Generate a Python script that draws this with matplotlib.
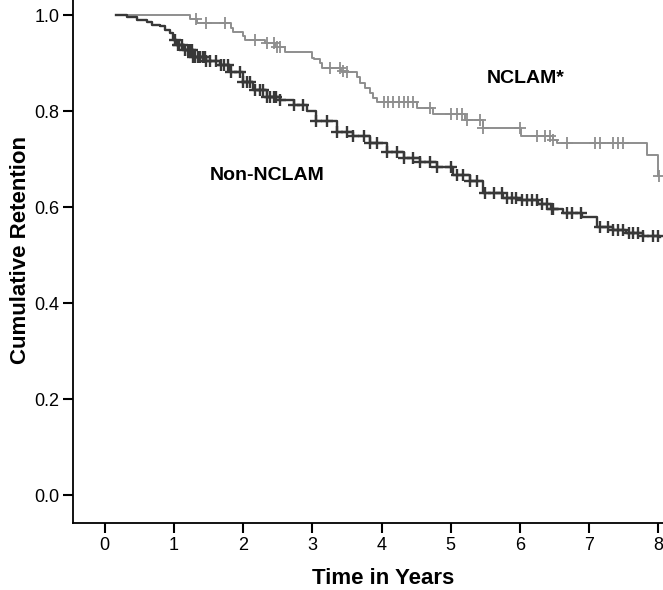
import numpy as np
import matplotlib
matplotlib.use("Agg")
import matplotlib.pyplot as plt

# ---- data ----
# Non-NCLAM Kaplan-Meier steps: (time in years, cumulative retention)
non_t = [0.17, 0.32, 0.46, 0.61, 0.68, 0.80, 0.87, 0.94, 0.99, 1.04, 1.14, 1.28,
         1.47, 1.67, 1.81, 2.00, 2.15, 2.34, 2.53, 2.73, 2.92, 3.06, 3.35, 3.59,
         3.83, 4.08, 4.32, 4.56, 4.80, 5.04, 5.28, 5.47, 5.76, 6.02, 6.26, 6.45,
         6.62, 6.90, 7.11, 7.35, 7.54, 7.78, 8.02]
non_v = [1.000, 0.996, 0.991, 0.987, 0.980, 0.977, 0.970, 0.963, 0.949, 0.939, 0.928, 0.914,
         0.904, 0.897, 0.883, 0.862, 0.845, 0.831, 0.824, 0.814, 0.800, 0.779, 0.758, 0.748,
         0.734, 0.716, 0.702, 0.695, 0.685, 0.668, 0.654, 0.631, 0.620, 0.615, 0.608, 0.597,
         0.588, 0.581, 0.560, 0.553, 0.546, 0.541, 0.538]
non_cens = [1.02, 1.06, 1.08, 1.11, 1.16, 1.21, 1.23, 1.26, 1.28, 1.31, 1.35, 1.38, 1.42,
            1.45, 1.47, 1.52, 1.61, 1.68, 1.73, 1.78, 1.83, 1.95, 2.00, 2.05, 2.10, 2.17,
            2.25, 2.29, 2.34, 2.39, 2.44, 2.48, 2.53, 2.73, 2.87, 3.06, 3.21, 3.35, 3.50,
            3.59, 3.74, 3.83, 3.93, 4.08, 4.22, 4.32, 4.46, 4.56, 4.70, 4.80, 5.00, 5.09,
            5.18, 5.28, 5.38, 5.50, 5.62, 5.74, 5.81, 5.88, 5.95, 6.03, 6.10, 6.17, 6.24,
            6.32, 6.39, 6.46, 6.48, 6.68, 6.75, 6.89, 7.16, 7.28, 7.35, 7.42, 7.49, 7.57,
            7.64, 7.71, 7.78, 7.93, 8.00]

# NCLAM Kaplan-Meier steps
ncl_t = [0.18, 1.23, 1.34, 1.83, 1.86, 2.00, 2.03, 2.31, 2.46, 2.60, 2.99, 3.02, 3.11,
         3.14, 3.42, 3.47, 3.64, 3.69, 3.76, 3.83, 3.88, 3.93, 4.51, 4.74, 5.21, 5.47,
         6.01, 6.48, 6.53, 7.83, 8.00]
ncl_v = [1.000, 0.993, 0.984, 0.973, 0.965, 0.956, 0.949, 0.942, 0.935, 0.923, 0.911, 0.909,
         0.900, 0.890, 0.885, 0.881, 0.871, 0.859, 0.848, 0.838, 0.827, 0.820, 0.807, 0.795,
         0.783, 0.765, 0.749, 0.741, 0.734, 0.709, 0.666]
ncl_cens = [1.32, 1.47, 1.74, 2.17, 2.34, 2.44, 2.49, 2.53, 3.26, 3.40, 3.44, 3.50, 4.03,
            4.10, 4.17, 4.25, 4.32, 4.39, 4.46, 4.70, 5.01, 5.09, 5.16, 5.23, 5.42, 5.47,
            6.00, 6.24, 6.36, 6.43, 6.48, 6.68, 7.08, 7.16, 7.35, 7.42, 7.49, 8.01]

x_ticks = [0, 1, 2, 3, 4, 5, 6, 7, 8]
y_ticks = [0.0, 0.2, 0.4, 0.6, 0.8, 1.0]
labels = {"NCLAM": "NCLAM*", "NON": "Non-NCLAM"}


def step_at(times, vals, q):
    times = np.asarray(times)
    vals = np.asarray(vals)
    idx = np.searchsorted(times, np.asarray(q), side="right") - 1
    idx = np.clip(idx, 0, len(vals) - 1)
    return vals[idx]


fig = plt.figure(figsize=(6.63, 5.90), dpi=100)
ax = fig.add_axes([73.3 / 663, (590 - 522.7) / 590, (663 - 73.3) / 663, 522.7 / 590])

dark = "#383838"
grey = "#8e8e8e"

ax.step(ncl_t, ncl_v, where="post", color=grey, lw=1.4, zorder=2)
ax.plot(ncl_cens, step_at(ncl_t, ncl_v, ncl_cens), ls="none", marker="+",
        ms=8, mew=1.3, color=grey, zorder=2)

ax.step(non_t, non_v, where="post", color=dark, lw=1.7, zorder=3)
ax.plot(non_cens, step_at(non_t, non_v, non_cens), ls="none", marker="+",
        ms=8, mew=1.7, color=dark, zorder=3)

ax.set_xlim((-0.454, 8.068))
ax.set_ylim((-0.0567, 1.032))

ax.spines["top"].set_visible(False)
ax.spines["right"].set_visible(False)
for s in ("left", "bottom"):
    ax.spines[s].set_linewidth(1.3)
    ax.spines[s].set_color("black")

tick_font = ["Liberation Sans Narrow", "Liberation Sans", "DejaVu Sans"]
ax.set_xticks(x_ticks)
ax.set_xticklabels([str(v) for v in x_ticks], family=tick_font, fontsize=13)
ax.set_yticks(y_ticks)
ax.set_yticklabels([f"{v:.1f}" for v in y_ticks], family=tick_font, fontsize=13)
ax.tick_params(direction="out", length=7, width=1.5, pad=3, colors="black")

lab_font = ["Liberation Sans", "DejaVu Sans"]
fig.text(383 / 663, (590 - 578) / 590, "Time in Years", ha="center", va="center",
         fontsize=16, fontweight="bold", family=lab_font)
fig.text(21 / 663, 1 - 250 / 590, "Cumulative Retention", ha="center", va="center",
         rotation=90, fontsize=16, fontweight="bold", family=lab_font)

ax.text(6.09, 0.868, labels["NCLAM"], ha="center", va="center", fontsize=14,
        fontweight="bold", family=lab_font)
ax.text(2.34, 0.666, labels["NON"], ha="center", va="center", fontsize=14,
        fontweight="bold", family=lab_font)

fig.savefig("out.png", dpi=100)
